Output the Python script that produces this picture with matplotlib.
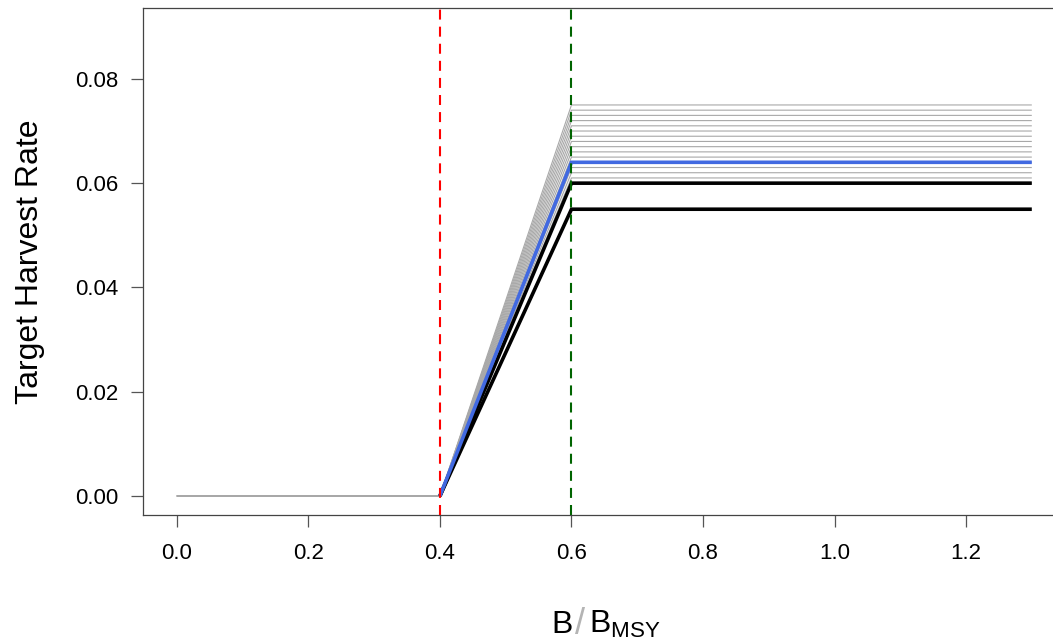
import matplotlib
matplotlib.use("Agg")
import matplotlib.pyplot as plt

plt.rcParams['font.family'] = ['Liberation Sans', 'DejaVu Sans']
plt.rcParams['mathtext.fontset'] = 'custom'
plt.rcParams['mathtext.rm'] = 'Liberation Sans'
plt.rcParams['mathtext.it'] = 'Liberation Sans:italic'

# Harvest control rule breakpoints (B/BMSY)
b_lim = 0.4
b_trig = 0.6
b_max = 1.3
b_min = 0.0

# Alternative target harvest rates (gray family)
gray_rates = [0.060, 0.061, 0.062, 0.063, 0.064, 0.065, 0.066, 0.067,
              0.068, 0.069, 0.070, 0.071, 0.072, 0.073, 0.074, 0.075]
# Highlighted rates
blue_rate = 0.064
black_rates = [0.060, 0.055]

x_ticks = [0.0, 0.2, 0.4, 0.6, 0.8, 1.0, 1.2]
y_ticks = [0.00, 0.02, 0.04, 0.06, 0.08]

fig = plt.figure(figsize=(10.53, 6.44), dpi=100)
ax = fig.add_axes([142.7 / 1053, 129.3 / 644, (1066 - 142.7) / 1053, (636 - 129.3) / 644])

for f in gray_rates:
    ax.plot([b_min, b_lim, b_trig, b_max], [0, 0, f, f], color='#a8a8a8', lw=0.8,
            solid_capstyle='butt', zorder=2)

for f in black_rates:
    ax.plot([b_lim, b_trig, b_max], [0, f, f], color='black', lw=2.6,
            solid_capstyle='butt', solid_joinstyle='miter', zorder=3)

ax.plot([b_lim, b_trig, b_max], [0, blue_rate, blue_rate], color='#4169E1', lw=2.6,
        solid_capstyle='butt', solid_joinstyle='miter', zorder=4)

ax.axvline(b_lim, color='red', lw=1.5, dashes=(4.8, 3.4), zorder=5)
ax.axvline(b_trig, color='#006400', lw=1.5, dashes=(4.8, 3.4), zorder=5)

ax.set_xlim(-0.052, 1.352)
ax.set_ylim(-0.0036, 0.0936)
ax.set_xticks(x_ticks)
ax.set_xticklabels([f"{v:.1f}" for v in x_ticks])
ax.set_yticks(y_ticks)
ax.set_yticklabels([f"{v:.2f}" for v in y_ticks])

for s in ax.spines.values():
    s.set_color('#444444')
    s.set_linewidth(0.9)

ax.tick_params(axis='both', direction='out', length=8.6, width=0.9, color='#555555',
               labelsize=16, labelcolor='black')
ax.tick_params(axis='x', pad=12)
ax.tick_params(axis='y', pad=9)

fig.text(30 / 1053, 1 - 262 / 644, 'Target Harvest Rate', rotation=90,
         ha='center', va='center', fontsize=23)

# x-axis label: B / B_MSY
base_y = 1 - 633 / 644
fig.text(551 / 1053, base_y, 'B', ha='left', va='baseline', fontsize=23)
fig.text(580 / 1053, base_y - 1 / 644, '/', ha='center', va='baseline', fontsize=26,
         color='#b4b4b4')
fig.text(589 / 1053, base_y, r'B$_{\mathrm{MSY}}$', ha='left', va='baseline', fontsize=23)

fig.savefig('out.png', dpi=100)
